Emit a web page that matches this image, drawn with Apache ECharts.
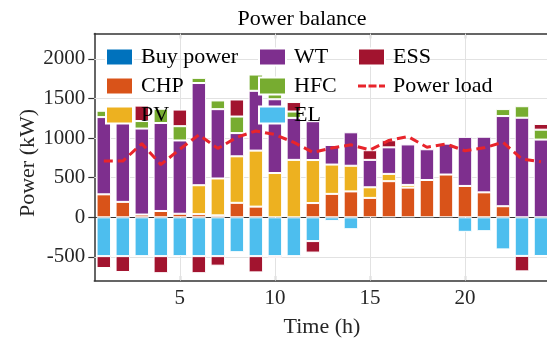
<!DOCTYPE html>
<html>
<head>
<meta charset="utf-8">
<script src="https://cdn.jsdelivr.net/npm/echarts@6/dist/echarts.min.js"></script>
<style>
  html, body { margin: 0; padding: 0; background: #fff; }
  #chart { width: 547px; height: 342px; }
</style>
</head>
<body>
<div id="chart"></div>
<script>
// Hourly power balance (kW)
const hours = [1, 2, 3, 4, 5, 6, 7, 8, 9, 10, 11, 12, 13, 14, 15, 16, 17, 18, 19, 20, 21, 22, 23, 24];
const buyPower = [0, 0, 0, 0, 0, 0, 0, 0, 0, 0, 0, 0, 0, 0, 0, 0, 0, 0, 0, 0, 0, 0, 0, 0];
const chp = [290, 195, 35, 80, 45, 40, 25, 183, 135, 0, 0, 180, 296, 327, 245, 456, 375, 471, 540, 396, 315, 140, 0, 0];
const pv = [0, 0, 0, 0, 0, 365, 465, 587, 707, 559, 725, 543, 370, 324, 134, 92, 34, 0, 0, 0, 0, 0, 0, 0];
const wt = [975, 1030, 1085, 1110, 925, 1290, 875, 293, 755, 931, 530, 490, 247, 422, 346, 335, 511, 388, 390, 619, 702, 1138, 1257, 981];
const hfc = [80, 0, 95, 180, 180, 65, 110, 209, 205, 210, 80, 0, 0, 0, 0, 0, 0, 0, 0, 0, 0, 88, 145, 125];
const el = [-490, -490, -490, -490, -490, -490, -490, -440, -490, -490, -490, -300, -45, -150, 0, 0, 0, 0, 0, -183, -175, -405, -487, -488];
const ess = [-150, -200, 195, -215, 210, -215, -120, 215, -205, -25, 120, -145, 0, 0, 122, 90, 0, 0, 0, 0, 0, 0, -195, 72];
const powerLoad = [710, 710, 930, 665, 860, 1040, 870, 1010, 1090, 1045, 945, 820, 875, 915, 850, 970, 1020, 885, 925, 840, 877, 947, 735, 700];
const xTicks = [5, 10, 15, 20];
const yTicks = [-500, 0, 500, 1000, 1500, 2000];

const FONT = '"Liberation Serif", "Times New Roman", serif';
const AXIS_COLOR = '#333';
const LABEL_COLOR = '#262626';
const LOAD_COLOR = '#E8242B';

// empty segments are left out of the stack so they draw nothing
const blank = arr => arr.map(v => (v === 0 ? '-' : v));

function barSeries(name, values, color) {
  return {
    name: name,
    type: 'bar',
    stack: 'power',
    xAxisIndex: 0,
    yAxisIndex: 0,
    barWidth: 14.5,
    data: blank(values),
    itemStyle: { color: color, borderColor: '#fff', borderWidth: 1 },
    emphasis: { disabled: true },
    z: 2
  };
}

const legendBase = {
  orient: 'vertical',
  itemWidth: 27,
  itemHeight: 17,
  itemGap: 7,
  padding: 0,
  selectedMode: false,
  symbolKeepAspect: true,
  textStyle: { fontFamily: FONT, fontSize: 22, color: '#000', lineHeight: 20, padding: [0, 0, 0, 3] }
};

// dashed stroke used as the load entry's key
const dashIcon = 'path://M0 0H8V3H0Z M10.5 0H18.5V3H10.5Z M21 0H27V3H21Z';

const chart = echarts.init(document.getElementById('chart'), null, { renderer: 'canvas' });

chart.setOption({
  animation: false,
  backgroundColor: '#fff',
  textStyle: { fontFamily: FONT },
  grid: { left: 94.3, right: -3.5, top: 33.5, bottom: 61.3, outerBoundsMode: 'none' },
  legend: [
    Object.assign({}, legendBase, { left: 105, top: 46, data: [
      { name: 'Buy power', icon: 'rect' }, { name: 'CHP', icon: 'rect' }, { name: 'PV', icon: 'rect' }] }),
    Object.assign({}, legendBase, { left: 258, top: 46, data: [
      { name: 'WT', icon: 'rect' }, { name: 'HFC', icon: 'rect' }, { name: 'EL', icon: 'rect' }] }),
    Object.assign({}, legendBase, { left: 357, top: 46, data: [
      { name: 'ESS', icon: 'rect' },
      { name: 'Power load', icon: dashIcon, itemStyle: { color: LOAD_COLOR, borderWidth: 0 } }] })
  ],
  xAxis: [
    {
      // hour bands carrying the bars; its line marks the zero baseline
      type: 'category',
      data: hours.map(String),
      boundaryGap: true,
      axisLine: { show: true, onZero: true, lineStyle: { color: AXIS_COLOR, width: 1.2 } },
      axisTick: { show: false },
      axisLabel: { show: false },
      splitLine: { show: false }
    },
    {
      type: 'value',
      position: 'bottom',
      min: 0.5,
      max: 24.5,
      axisLine: { show: true, onZero: false, lineStyle: { color: AXIS_COLOR, width: 1.5 } },
      axisTick: { show: true, inside: true, length: 5, customValues: xTicks, lineStyle: { color: AXIS_COLOR, width: 1.2 } },
      axisLabel: { show: true, customValues: xTicks, margin: 7, fontFamily: FONT, fontSize: 21, color: LABEL_COLOR,
                   formatter: v => String(v) },
      splitLine: { show: false }
    },
    {
      type: 'value',
      position: 'top',
      min: 0.5,
      max: 24.5,
      axisLine: { show: true, onZero: false, lineStyle: { color: AXIS_COLOR, width: 1.5 } },
      axisTick: { show: true, inside: true, length: 5, customValues: xTicks, lineStyle: { color: AXIS_COLOR, width: 1.2 } },
      axisLabel: { show: false },
      splitLine: { show: false }
    }
  ],
  yAxis: [
    {
      type: 'value',
      position: 'left',
      min: -800,
      max: 2320,
      axisLine: { show: true, onZero: false, lineStyle: { color: AXIS_COLOR, width: 1.5 } },
      axisTick: { show: true, inside: false, length: 6, customValues: yTicks, lineStyle: { color: AXIS_COLOR, width: 1.2 } },
      axisLabel: { show: true, customValues: yTicks, margin: 9, fontFamily: FONT, fontSize: 21, color: LABEL_COLOR,
                   formatter: v => String(v) },
      splitLine: { show: false }
    }
  ],
  series: [
    {
      // light grid behind the bars
      name: 'grid',
      type: 'line',
      xAxisIndex: 1,
      yAxisIndex: 0,
      data: [],
      silent: true,
      z: 1,
      markLine: {
        z: 1,
        silent: true,
        symbol: 'none',
        label: { show: false },
        lineStyle: { color: '#e2e2e2', width: 1, type: 'solid' },
        emphasis: { disabled: true },
        data: xTicks.map(v => ({ xAxis: v })).concat(yTicks.filter(v => v !== 0).map(v => ({ yAxis: v })))
      }
    },
    barSeries('Buy power', buyPower, '#0072BD'),
    barSeries('CHP', chp, '#D95319'),
    barSeries('PV', pv, '#EDB120'),
    barSeries('WT', wt, '#7E2F8E'),
    barSeries('HFC', hfc, '#77AC30'),
    barSeries('EL', el, '#4DBEEE'),
    barSeries('ESS', ess, '#A2142F'),
    {
      name: 'Power load',
      type: 'line',
      xAxisIndex: 0,
      yAxisIndex: 0,
      data: powerLoad,
      symbol: 'none',
      lineStyle: { color: LOAD_COLOR, width: 3, type: [9, 5] },
      itemStyle: { color: LOAD_COLOR },
      emphasis: { disabled: true },
      z: 5
    }
  ],
  graphic: [
    { type: 'text', x: 302, y: 19, silent: true,
      style: { text: 'Power balance', fontFamily: FONT, fontSize: 22, fill: '#000', align: 'center', verticalAlign: 'middle' } },
    { type: 'text', x: 322, y: 327, silent: true,
      style: { text: 'Time (h)', fontFamily: FONT, fontSize: 22, fill: LABEL_COLOR, align: 'center', verticalAlign: 'middle' } },
    { type: 'text', x: 28, y: 163, rotation: Math.PI / 2, silent: true,
      style: { text: 'Power (kW)', fontFamily: FONT, fontSize: 22, fill: LABEL_COLOR, align: 'center', verticalAlign: 'middle' } }
  ]
});
</script>
</body>
</html>
